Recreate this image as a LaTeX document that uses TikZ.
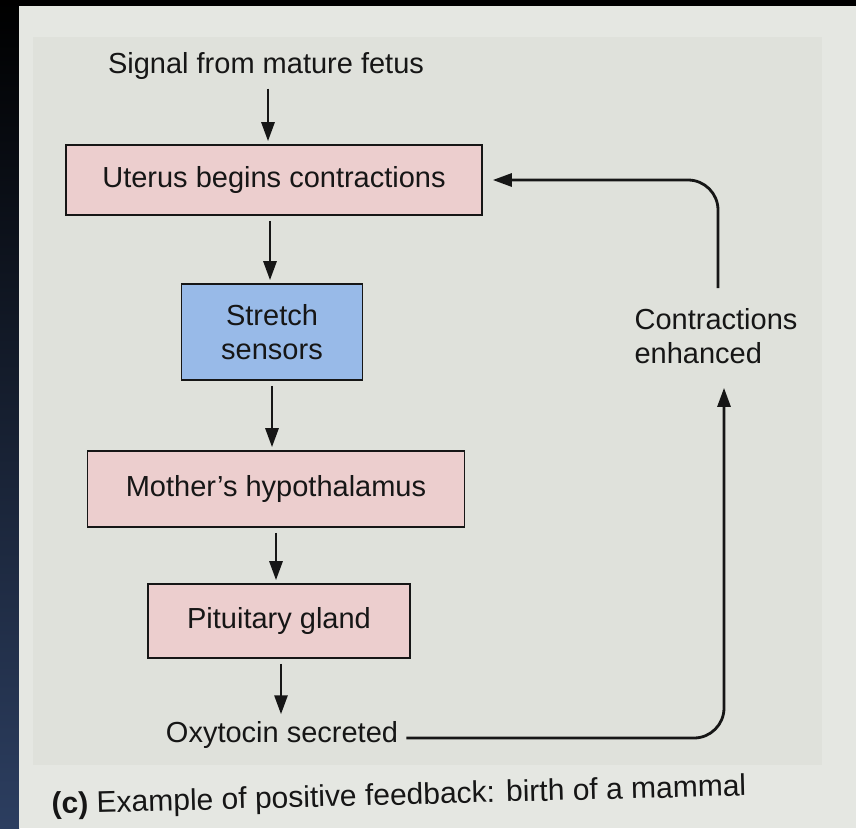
\documentclass[tikz,border=0pt]{standalone}
\usepackage{fontspec}
\setmainfont{Liberation Sans}
\usepackage{xcolor}
\definecolor{pagegray}{RGB}{229,231,226}
\definecolor{innergray}{RGB}{223,225,219}
\definecolor{framenavy}{RGB}{44,62,96}
\definecolor{boxpink}{RGB}{236,206,206}
\definecolor{boxblue}{RGB}{152,186,232}
\definecolor{inkdark}{RGB}{22,22,22}
\usetikzlibrary{arrows.meta, positioning}

\begin{document}
\begin{tikzpicture}[x=1pt, y=-1pt,
  stepbox/.style={draw=inkdark, line width=1.6pt, fill=boxpink, text=inkdark,
    font=\fontsize{29}{34}\selectfont, inner sep=0pt, align=center},
  steptext/.style={text=inkdark, font=\fontsize{29}{34}\selectfont, inner sep=4pt},
  flowarrow/.style={-{Triangle[length=19pt, width=13pt]}, inkdark, line width=2.8pt,
    shorten <=5pt, shorten >=3pt},
  loopline/.style={-{Triangle[length=19pt, width=13pt]}, inkdark, line width=2.8pt,
    rounded corners=30pt}]
\useasboundingbox (0,0) rectangle (856,828);

% --- photo frame and page ---
\fill[black] (0,0) rectangle (856,828);
\shade[top color=black, bottom color=framenavy] (0,0) rectangle (19,828);
\fill[pagegray] (19,6) rectangle (856,828);
\fill[innergray] (33,37) rectangle (822,765);

% --- main chain ---
\node[steptext] (signal) at (266,66) {Signal from mature fetus};
\node[stepbox, minimum width=416pt, minimum height=70pt] (uterus) at (274,180)
  {Uterus begins contractions};
\node[stepbox, fill=boxblue, minimum width=181pt, minimum height=96pt] (stretch) at (272,332)
  {Stretch\\sensors};
\node[stepbox, minimum width=377pt, minimum height=76pt] (hypothal) at (276,489)
  {Mother's hypothalamus};
\node[stepbox, minimum width=262pt, minimum height=74pt] (pituitary) at (279,621)
  {Pituitary gland};
\node[steptext] (oxytocin) at (282,735) {Oxytocin secreted};

\draw[flowarrow] ([xshift=2pt]signal.south) -- ([xshift=2pt]signal.south |- uterus.north);
\draw[flowarrow] ([xshift=-4pt]uterus.south) -- ([xshift=-4pt]uterus.south |- stretch.north);
\draw[flowarrow] (stretch.south) -- (stretch.south |- hypothal.north);
\draw[flowarrow] (hypothal.south) -- (hypothal.south |- pituitary.north);
\draw[flowarrow] ([xshift=2pt]pituitary.south) -- ([xshift=2pt]pituitary.south |- oxytocin.north);

% --- feedback loop ---
\node[steptext, align=left, inner sep=0pt] (enhanced) at (716,336)
  {Contractions\\enhanced};
\coordinate (loopdown) at ([xshift=8pt, yshift=-24pt]enhanced.south);
\coordinate (loopup) at ([xshift=2pt, yshift=20pt]enhanced.north);
\draw[loopline] ([xshift=4pt, yshift=-3pt]oxytocin.east) -| (loopdown);
\draw[loopline, shorten >=10pt] (loopup) |- (uterus.east);

% --- caption ---
\node[steptext, font=\fontsize{30}{34}\selectfont, rotate=1.5] (caption) at (399,797)
  {\textbf{(c)} Example of positive feedback: birth of a mammal};

\end{tikzpicture}
\end{document}
